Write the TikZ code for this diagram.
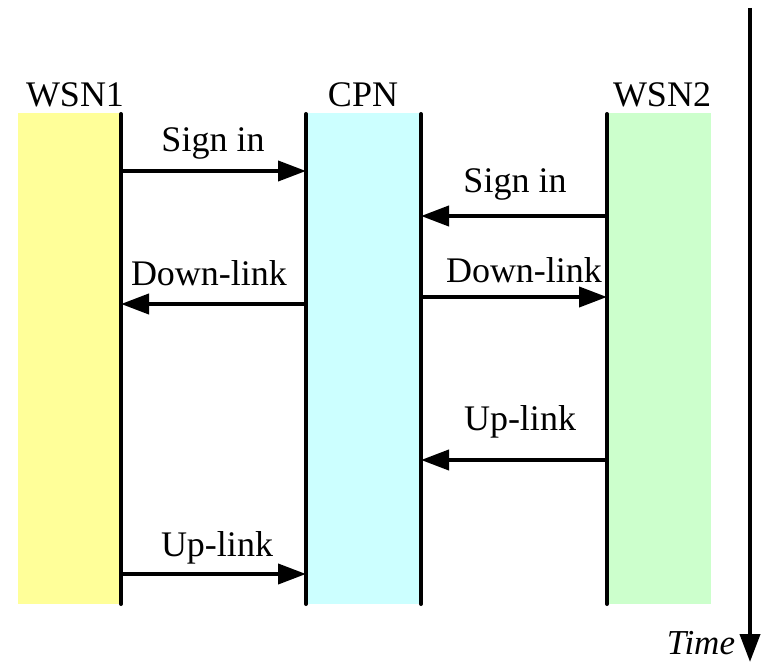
\documentclass[tikz,border=0pt]{standalone}
\usepackage{fontspec}
\setmainfont{Liberation Serif}
\usetikzlibrary{arrows.meta}
\definecolor{wsnyellow}{HTML}{FFFF99}
\definecolor{cpncyan}{HTML}{CCFFFF}
\definecolor{wsngreen}{HTML}{CCFFCC}

\begin{document}
\begin{tikzpicture}[x=1pt, y=-1pt,
    lifeline/.style={line width=4pt, line cap=round},
    msg/.style={line width=4pt, -{Triangle[length=28pt, width=20pt]}},
    txt/.style={anchor=base, inner sep=0pt, font=\fontsize{36}{42}\selectfont}]
  \useasboundingbox (0,0) rectangle (763,663);

  % Lanes
  \fill[wsnyellow] (18,113) rectangle (121,604);
  \fill[cpncyan] (306,113) rectangle (421,604);
  \fill[wsngreen] (607,113) rectangle (711,604);

  % Lifelines
  \foreach \n/\x in {w1/121, cl/306, cr/421, w2/607} {
      \coordinate (\n-top) at (\x,114);
      \coordinate (\n-bot) at (\x,604);
      \draw[lifeline] (\n-top) -- (\n-bot);
  }

  % Message points on the lifelines
  \foreach \n/\x in {w1/121, cl/306, cr/421, w2/607}
      \foreach \k/\y in {a/171, b/216, c/297, d/304, e/460, f/574}
          \coordinate (\n-\k) at (\x,\y);

  % Headers
  \node[txt] (lbl-wsn1) at (75,107) {WSN1};
  \node[txt] (lbl-cpn) at (363,107) {CPN};
  \node[txt] (lbl-wsn2) at (662,107) {WSN2};

  % Messages
  \draw[msg] (w1-a) -- (cl-a);
  \draw[msg] (w2-b) -- (cr-b);
  \draw[msg] (cr-c) -- (w2-c);
  \draw[msg] (cl-d) -- (w1-d);
  \draw[msg] (w2-e) -- (cr-e);
  \draw[msg] (w1-f) -- (cl-f);

  % Labels
  \node[txt] (lbl-a) at (213,152) {Sign in};
  \node[txt] (lbl-b) at (515,193) {Sign in};
  \node[txt] (lbl-c) at (524,282) {Down-link};
  \node[txt] (lbl-d) at (209,285) {Down-link};
  \node[txt] (lbl-e) at (520,430) {Up-link};
  \node[txt] (lbl-f) at (217,556) {Up-link};

  % Time axis
  \coordinate (time-start) at (750,8);
  \coordinate (time-end) at (750,662);
  \draw[msg] (time-start) -- (time-end);
  \node[txt, font=\fontsize{35}{40}\selectfont\itshape] (lbl-time) at (701,654) {Time};
\end{tikzpicture}
\end{document}
